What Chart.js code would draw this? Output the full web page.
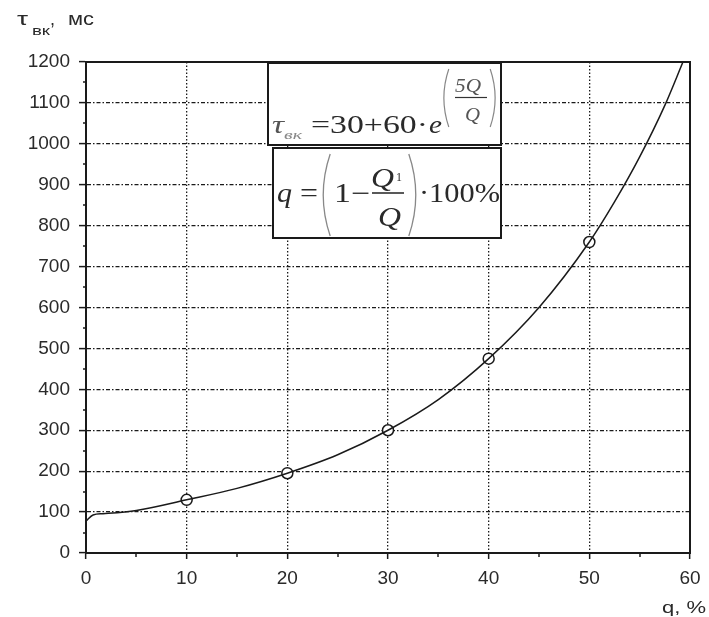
<!DOCTYPE html>
<html>
<head>
<meta charset="utf-8">
<script src="https://cdn.jsdelivr.net/npm/chart.js@4/dist/chart.umd.min.js"></script>
<style>
  html, body { margin: 0; background: #fff; }
  #wrap { width: 709px; height: 617px; position: relative; }
</style>
</head>
<body>
<div id="wrap"><canvas id="chart"></canvas></div>
<script>
// axis ticks
const qTicks = [0, 10, 20, 30, 40, 50, 60];
const tauTicks = [0, 100, 200, 300, 400, 500, 600, 700, 800, 900, 1000, 1100, 1200];

// measured points (open circles)
const markQ = [10, 20, 30, 40, 50];
const markTau = [130, 195, 300, 475, 760];

// smooth curve through the measurements
const curveQ = [0, 0.7, 1.7, 5, 10, 15, 20, 25, 30, 35, 40, 45, 50, 52.5, 55, 57.5, 59.3];
const curveTau = [78, 93, 96, 104, 130, 158, 195, 240, 300, 375, 475, 600, 760, 858, 968, 1094, 1200];

const INK = '#1a1a1a';
const TEXT = '#2a2a2a';

// draw text stretched to span exactly from x to x + w
function fit(ctx, text, x, y, w) {
  const m = ctx.measureText(text).width;
  ctx.save();
  ctx.translate(x, y);
  ctx.scale(w / m, 1);
  ctx.fillText(text, 0, 0);
  ctx.restore();
}

function paren(ctx, x, y0, y1, left) {
  const h = y1 - y0, bow = h * 0.1;
  ctx.beginPath();
  if (left) {
    ctx.moveTo(x + bow, y0);
    ctx.quadraticCurveTo(x - bow * 0.7, (y0 + y1) / 2, x + bow, y1);
  } else {
    ctx.moveTo(x - bow, y0);
    ctx.quadraticCurveTo(x + bow * 0.7, (y0 + y1) / 2, x - bow, y1);
  }
  ctx.stroke();
}

const decor = {
  id: 'decor',
  afterDraw(chart) {
    const { ctx, chartArea: a, scales: { x, y } } = chart;
    ctx.save();

    // frame round the plot
    ctx.strokeStyle = INK;
    ctx.lineWidth = 2;
    ctx.strokeRect(a.left, a.top, a.right - a.left, a.bottom - a.top);

    // minor ticks
    ctx.lineWidth = 1.5;
    for (let v = 5; v < 60; v += 10) {
      const px = Math.round(x.getPixelForValue(v));
      ctx.beginPath(); ctx.moveTo(px, a.bottom); ctx.lineTo(px, a.bottom + 4); ctx.stroke();
    }
    for (let v = 50; v < 1200; v += 100) {
      const py = Math.round(y.getPixelForValue(v));
      ctx.beginPath(); ctx.moveTo(a.left - 3, py); ctx.lineTo(a.left + 1, py); ctx.stroke();
    }

    // axis titles
    ctx.fillStyle = TEXT;
    ctx.textBaseline = 'alphabetic';
    ctx.textAlign = 'left';
    ctx.font = '18px "Liberation Sans"';
    fit(ctx, 'τ', 17, 25, 11);
    ctx.font = '13px "Liberation Sans"';
    fit(ctx, 'вк', 32, 35, 18);
    ctx.font = '18px "Liberation Sans"';
    ctx.fillText(',', 50, 25);
    fit(ctx, 'мс', 68, 25, 26);
    ctx.font = '17px "Liberation Sans"';
    fit(ctx, 'q, %', 662, 613, 44);

    // formula boxes
    ctx.fillStyle = '#fff';
    ctx.strokeStyle = INK;
    ctx.lineWidth = 2;
    ctx.fillRect(268, 63, 233, 82);
    ctx.strokeRect(268, 63, 233, 82);
    ctx.fillRect(273, 148, 228, 90);
    ctx.strokeRect(273, 148, 228, 90);

    // τвк = 30 + 60·e^(5Q/Q)
    ctx.fillStyle = '#555';
    ctx.font = 'italic 26px "Liberation Serif"';
    fit(ctx, 'τ', 272, 133, 12);
    ctx.fillStyle = '#888';
    ctx.font = 'italic 12px "Liberation Serif"';
    fit(ctx, 'вк', 284, 139, 18);
    ctx.fillStyle = TEXT;
    ctx.font = '26px "Liberation Serif"';
    fit(ctx, '=30+60·', 311, 133, 117);
    ctx.font = 'italic 26px "Liberation Serif"';
    fit(ctx, 'e', 429, 133, 13);
    ctx.strokeStyle = '#888';
    ctx.lineWidth = 1.2;
    paren(ctx, 443, 69, 127, true);
    paren(ctx, 496, 69, 127, false);
    ctx.fillStyle = '#555';
    ctx.font = 'italic 18px "Liberation Serif"';
    fit(ctx, '5Q', 455, 92, 26);
    fit(ctx, 'Q', 465, 121, 15);
    ctx.strokeStyle = '#333';
    ctx.beginPath(); ctx.moveTo(455, 97.5); ctx.lineTo(487, 97.5); ctx.stroke();

    // q = (1 − Q1/Q)·100%
    ctx.fillStyle = TEXT;
    ctx.font = 'italic 27px "Liberation Serif"';
    fit(ctx, 'q', 277, 202, 15);
    ctx.font = '27px "Liberation Serif"';
    fit(ctx, '=', 300, 202, 18);
    fit(ctx, '1−', 334, 202, 36);
    fit(ctx, '·100%', 419, 202, 81);
    ctx.strokeStyle = '#888';
    ctx.lineWidth = 1.3;
    paren(ctx, 322, 154, 236, true);
    paren(ctx, 417, 154, 236, false);
    ctx.font = 'italic 27px "Liberation Serif"';
    fit(ctx, 'Q', 371, 187, 23);
    fit(ctx, 'Q', 378, 226, 23);
    ctx.font = '12px "Liberation Serif"';
    ctx.fillText('1', 396, 181);
    ctx.strokeStyle = '#222';
    ctx.lineWidth = 1.5;
    ctx.beginPath(); ctx.moveTo(372, 193); ctx.lineTo(404, 193); ctx.stroke();

    ctx.restore();
  }
};

new Chart(document.getElementById('chart'), {
  type: 'scatter',
  data: {
    datasets: [
      {
        type: 'line',
        data: curveQ.map((q, i) => ({ x: q, y: curveTau[i] })),
        borderColor: INK,
        borderWidth: 1.5,
        pointRadius: 0,
        cubicInterpolationMode: 'monotone',
        fill: false
      },
      {
        data: markQ.map((q, i) => ({ x: q, y: markTau[i] })),
        pointRadius: 5.5,
        pointBorderWidth: 1.5,
        pointBackgroundColor: '#fff',
        pointBorderColor: INK
      }
    ]
  },
  options: {
    responsive: true,
    maintainAspectRatio: false,
    animation: false,
    layout: { padding: { left: 0, right: 19, top: 62, bottom: 0 } },
    plugins: { legend: { display: false }, tooltip: { enabled: false } },
    scales: {
      x: {
        type: 'linear',
        min: 0, max: 60,
        afterBuildTicks: s => { s.ticks = qTicks.map(v => ({ value: v })); },
        afterFit: s => { s.height = 64; },
        ticks: { color: TEXT, font: { family: 'Liberation Sans', size: 19 }, padding: 8, maxRotation: 0, callback: v => String(v) },
        grid: { color: INK, lineWidth: 1.3, tickLength: 6, tickColor: INK, tickWidth: 1.5, tickBorderDash: [] },
        border: { color: INK, width: 2, dash: [1.5, 2] }
      },
      y: {
        min: 0, max: 1200,
        afterBuildTicks: s => { s.ticks = tauTicks.map(v => ({ value: v })); },
        afterFit: s => { s.width = 86; },
        ticks: { color: TEXT, font: { family: 'Liberation Sans', size: 19 }, padding: 9, callback: v => String(v) },
        grid: { color: INK, lineWidth: 1.2, tickLength: 7, tickColor: INK, tickWidth: 1.5, tickBorderDash: [] },
        border: { color: INK, width: 2, dash: [4, 2, 1.5, 2] }
      }
    }
  },
  plugins: [decor]
});
</script>
</body>
</html>
